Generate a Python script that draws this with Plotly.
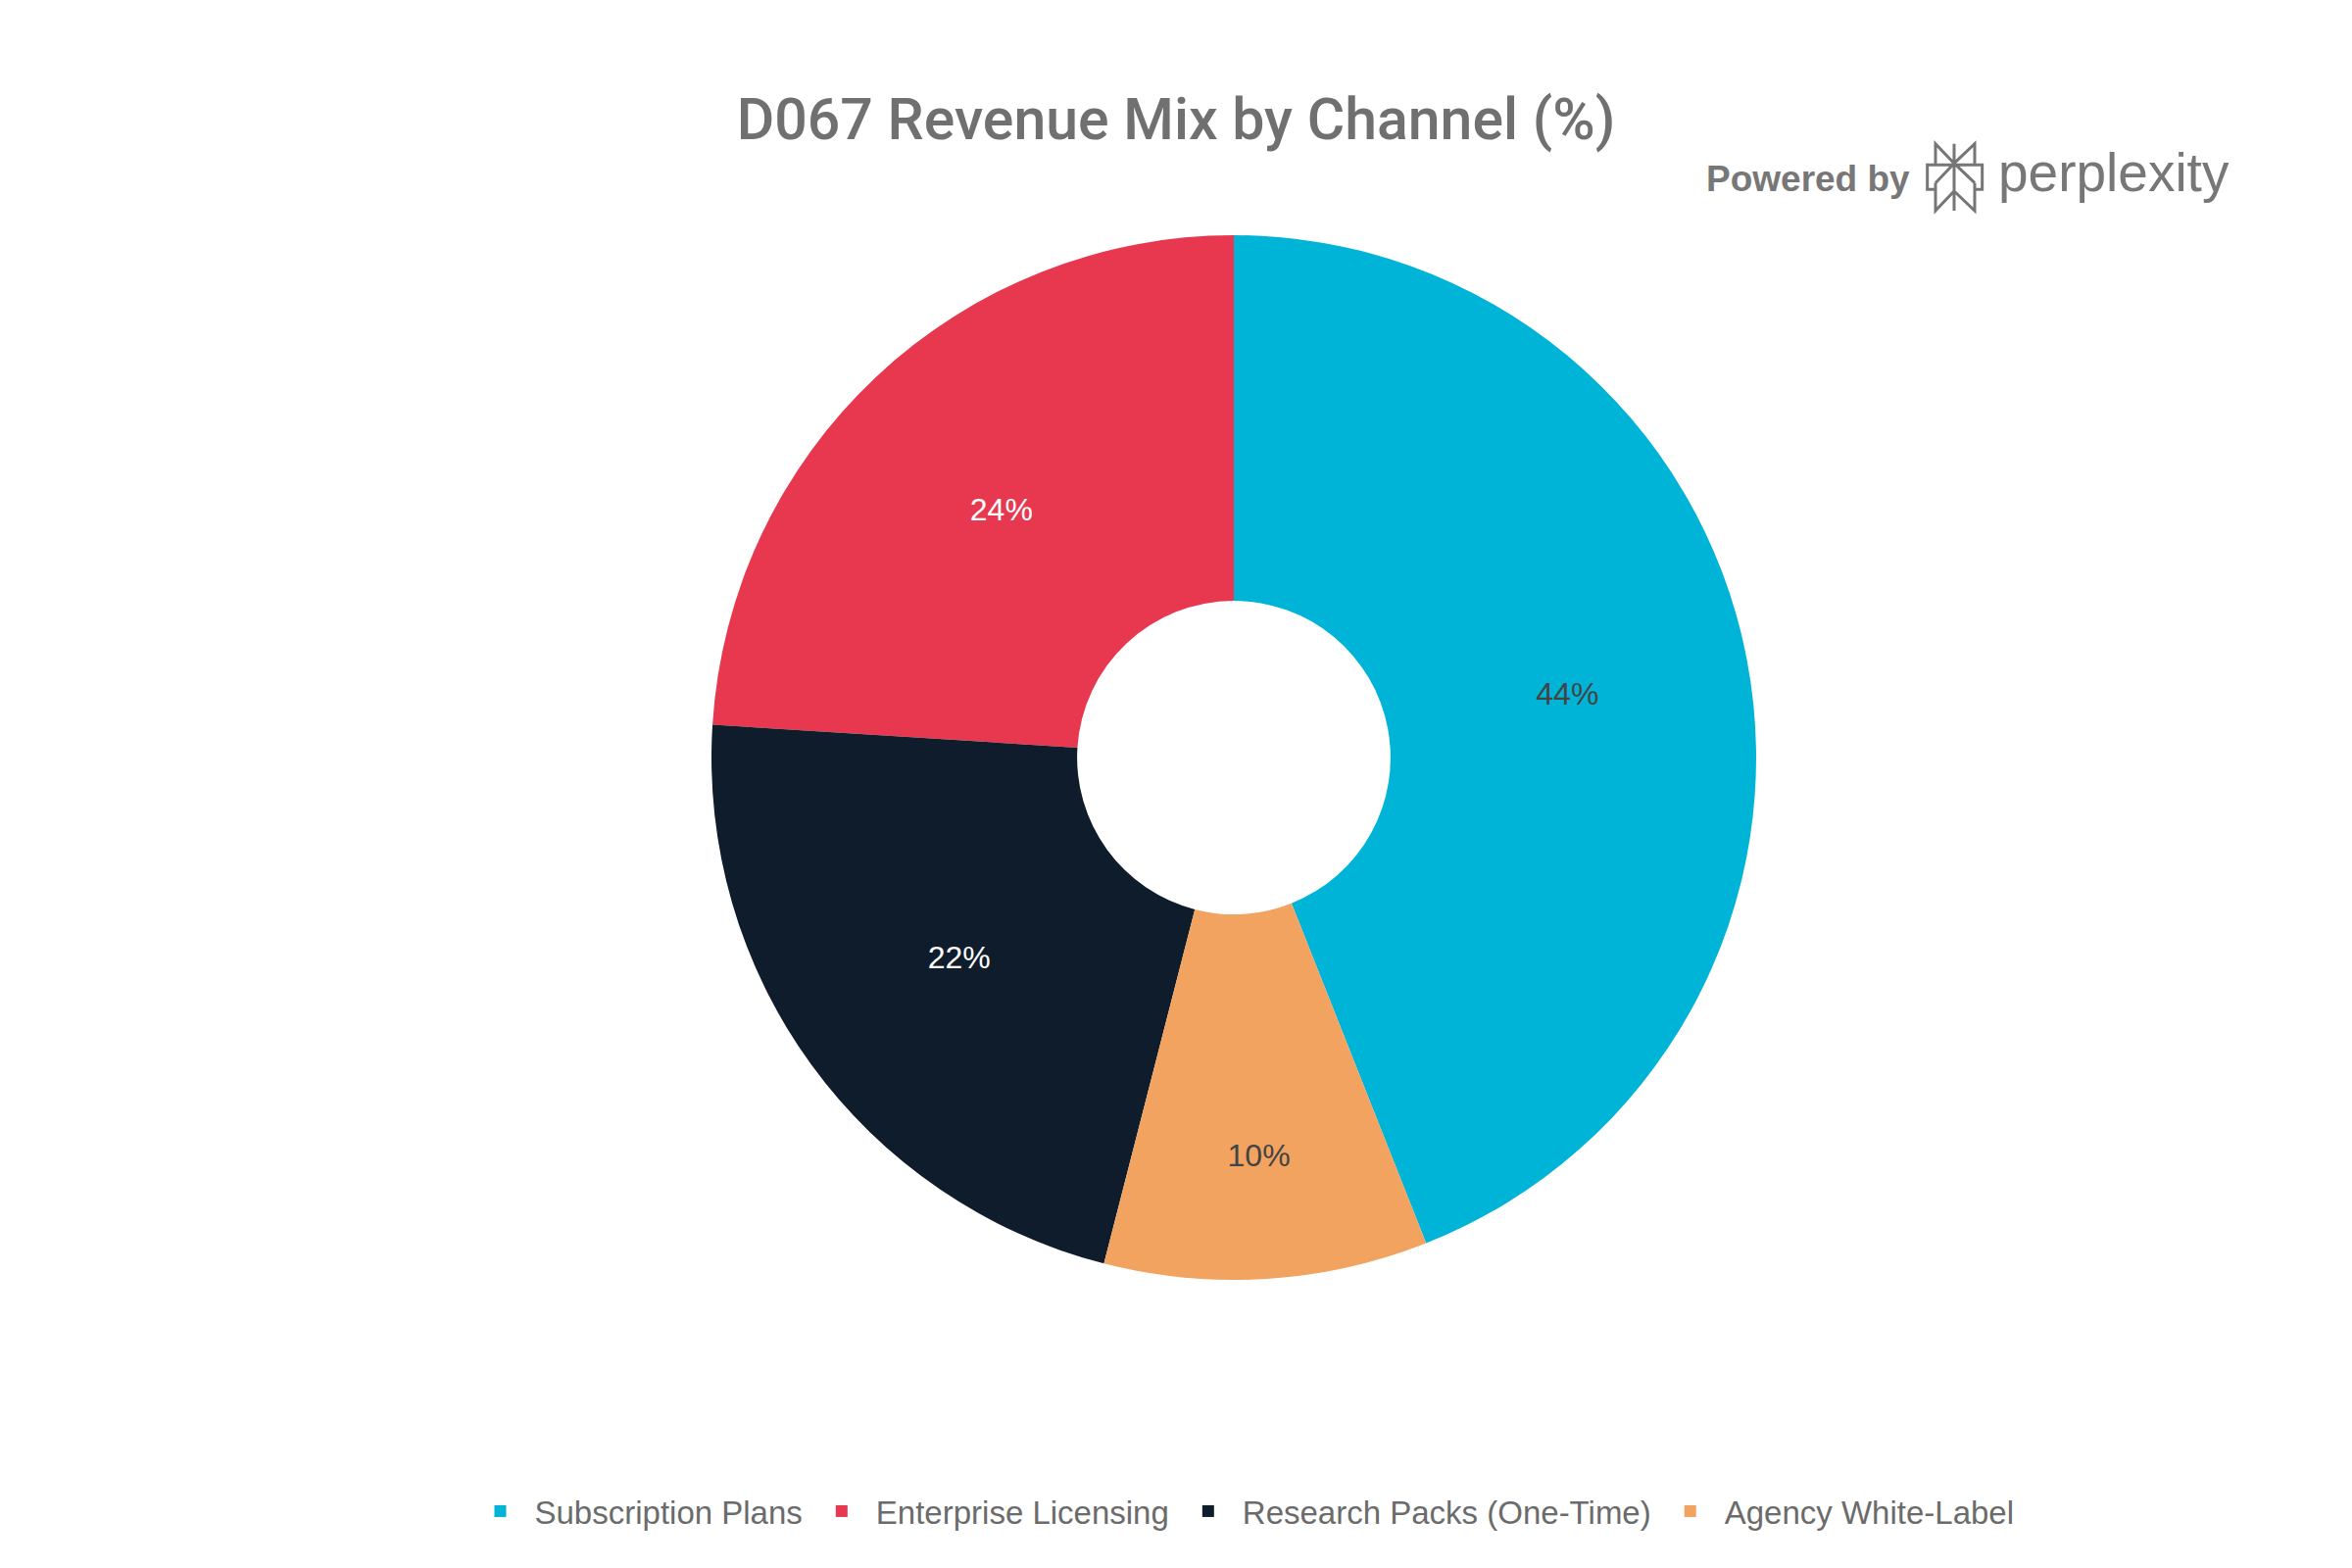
import plotly.graph_objects as go

# ---- data ----
channels = ["Subscription Plans", "Enterprise Licensing", "Research Packs (One-Time)", "Agency White-Label"]
shares = [44, 24, 22, 10]
colors = ["#00B4D8", "#E8384F", "#0F1C2C", "#F2A360"]
title_text = "D067 Revenue Mix by Channel (%)"

W, H = 2400, 1600
ML, MR, MT, MB = 180, 62, 240, 294
PW, PH = W - ML - MR, H - MT - MB


def px(x):
    return (x - ML) / PW


def py(y):
    return (H - MB - y) / PH


fig = go.Figure(
    go.Pie(
        labels=channels,
        values=shares,
        marker=dict(colors=colors, line=dict(width=0)),
        hole=0.3,
        sort=False,
        textinfo="percent",
        textposition="inside",
        textfont=dict(size=32),
        hoverinfo="label+percent",
    )
)

# Perplexity logo (outline) drawn as a path; points in a 3x zoom frame at (1950,135)
def lp(zx, zy):
    return px(1950 + zx / 3), py(135 + zy / 3)

segs = [
    [(132, 35), (132, 240)],
    [(75, 100), (75, 35), (132, 95)],
    [(195, 100), (195, 35), (132, 95)],
    [(75, 175), (50, 175), (50, 100), (218, 100), (218, 175), (195, 175)],
    [(132, 95), (75, 155)],
    [(132, 95), (195, 155)],
    [(75, 155), (75, 240), (132, 180)],
    [(195, 155), (195, 240), (132, 180)],
]
path = ""
for s in segs:
    for i, (a, b) in enumerate(s):
        x, y = lp(a, b)
        path += ("M" if i == 0 else "L") + f"{x:.5f},{y:.5f} "

shapes = [dict(type="path", xref="paper", yref="paper", path=path.strip(),
               line=dict(color="#767676", width=3))]

annotations = [
    dict(text="Powered by", xref="paper", yref="paper", x=px(1951), y=py(182),
         xanchor="right", yanchor="middle", showarrow=False,
         font=dict(family="Liberation Sans, Arial", size=37, color="#777777", weight="bold")),
    dict(text="perplexity", xref="paper", yref="paper", x=px(2037), y=py(176),
         xanchor="left", yanchor="middle", showarrow=False,
         font=dict(family="Liberation Sans, Arial", size=55, color="#777777")),
]

fig.update_layout(
    width=W,
    height=H,
    margin=dict(l=ML, r=MR, t=MT, b=MB),
    paper_bgcolor="white",
    plot_bgcolor="white",
    font=dict(family="Liberation Sans, Arial, sans-serif", color="#444444"),
    title=dict(text=title_text, x=0.5, xref="container", xanchor="center",
               y=1 - 121 / H, yref="container", yanchor="middle",
               font=dict(family="Roboto, Liberation Sans, Arial", size=59, color="#707070", weight=500)),
    legend=dict(orientation="h", x=px(1268), xanchor="center", y=py(1542), yanchor="middle",
                font=dict(size=33, color="#6b6b6b"), itemwidth=60),
    shapes=shapes,
    annotations=annotations,
)

fig.write_html("out.html")
